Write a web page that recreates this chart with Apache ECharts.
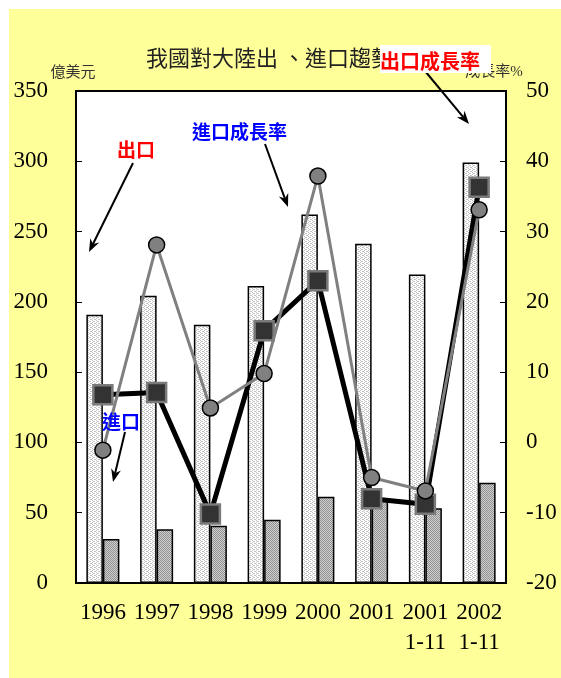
<!DOCTYPE html>
<html>
<head>
<meta charset="utf-8">
<title>我國對大陸出、進口趨勢圖</title>
<script src="https://cdn.jsdelivr.net/npm/echarts@6/dist/echarts.min.js"></script>
<style>
  html, body { margin: 0; padding: 0; background: #ffffff; }
  #paper { position: absolute; left: 9px; top: 9px; width: 552px; height: 669px; background: #ffff99; }
  #chart { position: absolute; left: 0; top: 0; width: 561px; height: 678px; }
</style>
</head>
<body>
<div id="paper"></div>
<div id="chart"></div>
<script>
// Years shown on the category axis
const categories = ['1996', '1997', '1998', '1999', '2000', '2001', '2001\n1-11', '2002\n1-11'];
// Trade values, 億美元
const exportValues = [190.8, 204.3, 183.7, 211.2, 262.2, 241.3, 219.5, 299.2];
const importValues = [31.3, 38.2, 40.8, 45.0, 61.4, 59.0, 53.1, 71.4];
// Growth rates, %
const exportGrowth = [6.8, 7.1, -10.2, 15.9, 23.0, -8.0, -8.8, 36.3];
const importGrowth = [-1.1, 28.1, 4.9, 9.8, 37.9, -5.0, -6.9, 33.1];
// Axis tick labels
const valueTicks = ['0', '50', '100', '150', '200', '250', '300', '350'];
const rateTicks = ['-20', '-10', '0', '10', '20', '30', '40', '50'];

// Fill textures for the bars
function makePattern(bg, fg, pts) {
  const c = document.createElement('canvas');
  c.width = 4; c.height = 4;
  const ctx = c.getContext('2d');
  ctx.fillStyle = bg; ctx.fillRect(0, 0, 4, 4);
  ctx.fillStyle = fg;
  pts.forEach(p => ctx.fillRect(p[0], p[1], 1, 1));
  return { image: c, repeat: 'repeat' };
}
const stipple = makePattern('#ffffff', '#c4c4c4', [[0, 0], [2, 1], [0, 2], [2, 3], [1, 1], [3, 3]]);
const hatch = makePattern('#d0d0d0', '#909090', [[0, 0], [1, 1], [2, 2], [3, 3], [2, 0], [3, 1], [0, 2], [1, 3]]);

const serif = '"Liberation Serif", "Times New Roman", serif';
const cjk = '"Noto Sans CJK TC", sans-serif';

// Arrow = shaft + filled head, from (x1,y1) to the tip (x2,y2)
function arrow(x1, y1, x2, y2) {
  const a = Math.atan2(y2 - y1, x2 - x1);
  const L = 13, W = 5;
  const bx = x2 - L * Math.cos(a), by = y2 - L * Math.sin(a);
  const nx = -Math.sin(a) * W, ny = Math.cos(a) * W;
  const mx = x2 - (L - 4) * Math.cos(a), my = y2 - (L - 4) * Math.sin(a);
  return [
    { type: 'line', z: 60, shape: { x1: x1, y1: y1, x2: mx, y2: my }, style: { stroke: '#000', lineWidth: 2 } },
    { type: 'polygon', z: 60, shape: { points: [[x2, y2], [bx + nx, by + ny], [mx, my], [bx - nx, by - ny]] }, style: { fill: '#000' } }
  ];
}

function label(text, x, y, color, size) {
  return { type: 'text', z: 61, style: { text: text, x: x, y: y, fill: color, font: 'bold ' + size + 'px ' + cjk, align: 'left', verticalAlign: 'middle' } };
}

const chart = echarts.init(document.getElementById('chart'), null, { renderer: 'canvas' });

chart.setOption({
  backgroundColor: 'transparent',
  animation: false,
  title: {
    text: '我國對大陸出 、進口趨勢圖',
    left: 'center',
    top: 42,
    textStyle: { fontFamily: cjk, fontSize: 22, fontWeight: 'normal', color: '#222' }
  },
  grid: {
    left: 76, top: 91, width: 430, height: 492,
    show: true, backgroundColor: '#ffffff', borderColor: '#000', borderWidth: 2
  },
  xAxis: {
    type: 'category',
    data: categories,
    boundaryGap: true,
    axisLine: { lineStyle: { color: '#000', width: 2 } },
    axisTick: { inside: true, length: 5, interval: 0, lineStyle: { color: '#000', width: 1 } },
    axisLabel: { interval: 0, margin: 15, fontFamily: serif, fontSize: 23, lineHeight: 30, color: '#000' }
  },
  yAxis: [
    {
      type: 'value', min: 0, max: 350, interval: 50,
      name: '億美元', nameLocation: 'end', nameGap: 20,
      nameTextStyle: { fontFamily: cjk, fontSize: 15, color: '#333', align: 'center', verticalAlign: 'middle', padding: [0, 6, 0, 0] },
      splitLine: { show: false },
      axisLine: { show: true, lineStyle: { color: '#000', width: 2 } },
      axisTick: { show: true, inside: true, length: 6, lineStyle: { color: '#000', width: 1 } },
      axisLabel: { margin: 28, fontFamily: serif, fontSize: 23, color: '#000', formatter: (v, i) => valueTicks[i] }
    },
    {
      type: 'value', min: -20, max: 50, interval: 10, position: 'right',
      name: '成長率%', nameLocation: 'end', nameGap: 19,
      nameTextStyle: { fontFamily: serif + ', ' + cjk, fontSize: 15, color: '#333', align: 'center', verticalAlign: 'middle', padding: [0, 24, 0, 0] },
      splitLine: { show: false },
      axisLine: { show: true, lineStyle: { color: '#000', width: 2 } },
      axisTick: { show: true, inside: true, length: 6, lineStyle: { color: '#000', width: 1 } },
      axisLabel: { margin: 20, fontFamily: serif, fontSize: 23, color: '#000', formatter: (v, i) => rateTicks[i] }
    }
  ],
  series: [
    {
      name: '出口', type: 'bar', data: exportValues, yAxisIndex: 0,
      barWidth: 16.5, barGap: '0%',
      itemStyle: { color: stipple, borderColor: '#000', borderWidth: 1.5 }
    },
    {
      name: '進口', type: 'bar', data: importValues, yAxisIndex: 0,
      barWidth: 16.5, barGap: '0%',
      itemStyle: { color: hatch, borderColor: '#000', borderWidth: 1.5 }
    },
    {
      name: '出口成長率', type: 'line', data: exportGrowth, yAxisIndex: 1,
      symbol: 'rect', symbolSize: 19, showAllSymbol: true,
      lineStyle: { color: '#000', width: 5 },
      itemStyle: { color: '#333333', borderColor: '#7a7a7a', borderWidth: 2.5 },
      z: 3
    },
    {
      name: '進口成長率', type: 'line', data: importGrowth, yAxisIndex: 1,
      symbol: 'circle', symbolSize: 16, showAllSymbol: true,
      lineStyle: { color: '#808080', width: 3 },
      itemStyle: { color: '#808080', borderColor: '#000', borderWidth: 1.5 },
      z: 4
    }
  ],
  graphic: [
    // series callouts
    label('出口', 117, 150, '#ff0000', 19),
    ...arrow(133, 163, 89, 252),
    label('進口成長率', 192, 132, '#0000ff', 19),
    ...arrow(265, 144, 288, 207),
    label('進口', 102, 422, '#0000ff', 19),
    ...arrow(125, 432, 113, 482),
    { type: 'rect', z: 62, shape: { x: 380, y: 45, width: 111, height: 28 }, style: { fill: '#ffffff' } },
    { type: 'text', z: 63, style: { text: '出口成長率', x: 380, y: 61, fill: '#ff0000', font: 'bold 20px ' + cjk, align: 'left', verticalAlign: 'middle' } },
    ...arrow(425, 71, 469, 124)
  ]
});
</script>
</body>
</html>
